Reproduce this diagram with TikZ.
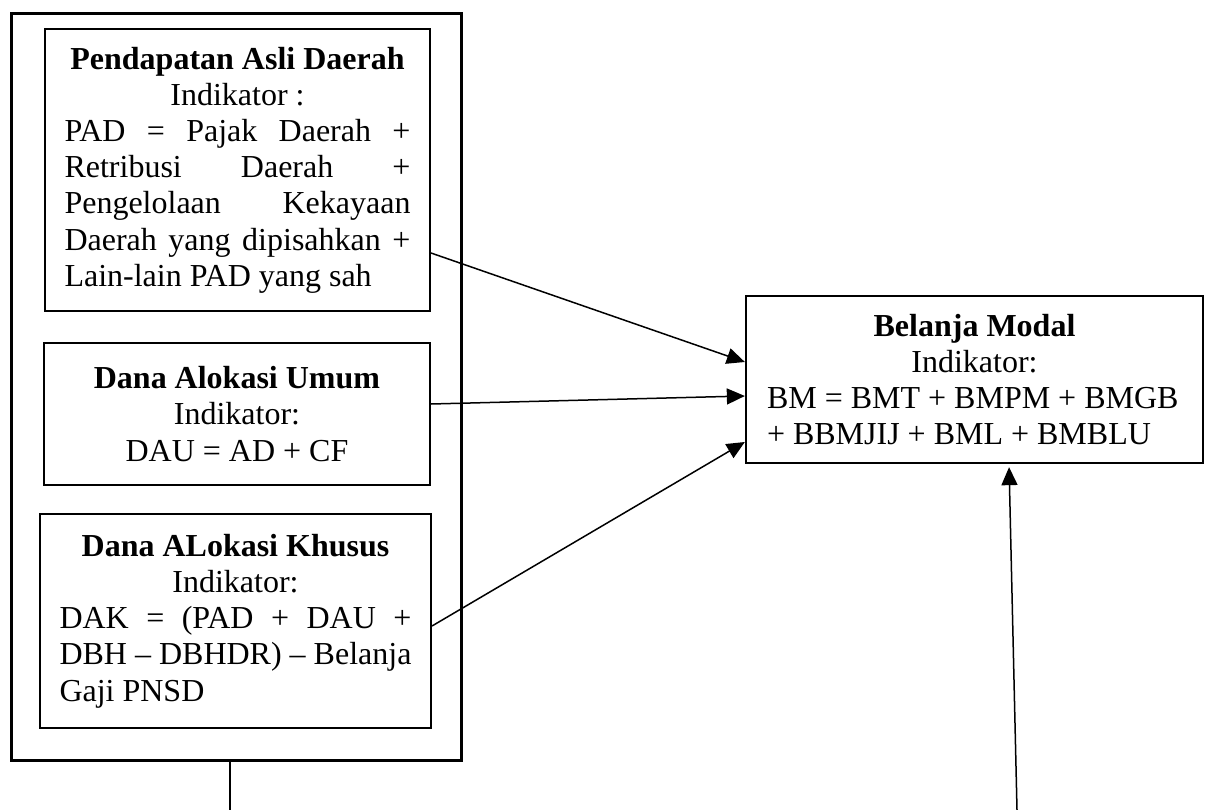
\documentclass[tikz,border=0pt]{standalone}
\usepackage{fontspec}
\setmainfont{Liberation Serif}
\usetikzlibrary{arrows.meta}
\newcommand\myjl[1]{\hbox to\hsize{#1}}
\newcommand\mycl[1]{\hbox to\hsize{\hfil#1\hfil}}
\newcommand\myll[1]{\hbox to\hsize{#1\hfil}}
\newcommand\mystack[2]{\vbox{\hsize=#1\relax #2}}
\begin{document}
\begin{tikzpicture}[x=1pt,y=-1pt,
  box/.style={draw, line width=2pt, rectangle, inner sep=0pt,
    font=\fontsize{32}{36.2}\selectfont},
  conn/.style={line width=1.5pt, -{Triangle[length=18pt,width=16pt]}},
  plain/.style={line width=1.5pt}]
\useasboundingbox (0,0) rectangle (1209,810);

\node[draw, line width=3pt, minimum width=449.5pt, minimum height=746.5pt, inner sep=0pt] (outer) at (236.25,386.75) {};

\node[box, minimum width=385pt, minimum height=282pt] (pad) at (237.5,170)
 {\mystack{346pt}{%
  \mycl{\textbf{Pendapatan Asli Daerah}}
  \mycl{Indikator :}
  \myjl{PAD = Pajak Daerah +}
  \myjl{Retribusi Daerah +}
  \myjl{Pengelolaan Kekayaan}
  \myjl{Daerah yang dipisahkan +}
  \myll{Lain-lain PAD yang sah}}};

\node[box, minimum width=386pt, minimum height=142pt] (dau) at (237,414)
 {\mystack{346pt}{%
  \mycl{\textbf{Dana Alokasi Umum}}
  \mycl{Indikator:}
  \mycl{DAU = AD + CF}}};

\node[box, minimum width=391pt, minimum height=214pt] (dak) at (235.5,621)
 {\mystack{352pt}{%
  \mycl{\textbf{Dana ALokasi Khusus}}
  \mycl{Indikator:}
  \myjl{DAK = (PAD + DAU +}
  \myjl{DBH -- DBHDR) -- Belanja}
  \myll{Gaji PNSD}}};

\node[box, line width=2.3pt, minimum width=457pt, minimum height=167pt] (bm) at (974.5,379.5)
 {\mystack{415pt}{%
  \mycl{\textbf{Belanja Modal}}
  \mycl{Indikator:}
  \myll{BM = BMT + BMPM + BMGB}
  \myll{+ BBMJIJ + BML + BMBLU}}};

\draw[conn] ([yshift=-83pt]pad.east) -- ([yshift=17.5pt]bm.west);
\draw[conn] ([yshift=10pt]dau.east) -- ([yshift=-16.5pt]bm.west);
\draw[conn] ([yshift=-5pt]dak.east) -- ([yshift=-62.5pt]bm.west);

\coordinate (b1) at (230,810);
\coordinate (b2) at (1017,810);
\draw[plain] ([xshift=-6.25pt]outer.south) -- (b1);
\draw[conn, shorten >=3pt] (b2) -- ([xshift=34.5pt]bm.south);
\end{tikzpicture}
\end{document}
